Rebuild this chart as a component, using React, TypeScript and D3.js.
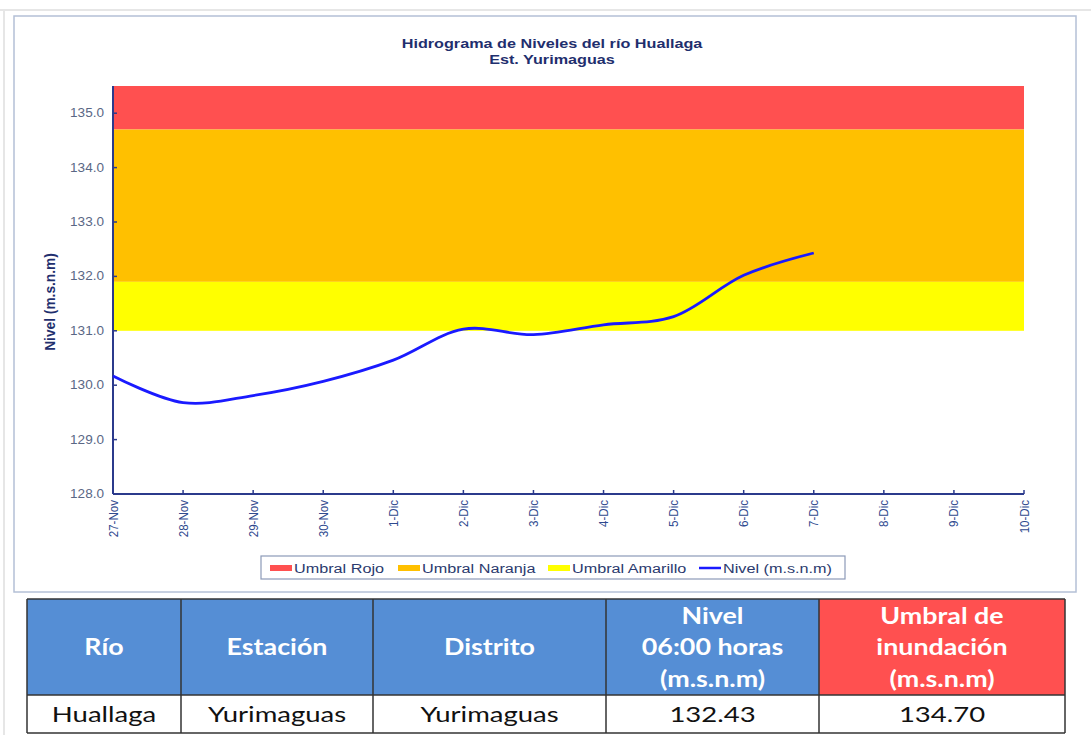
import React from "react";
import * as d3 from "d3";

const dates = ["27-Nov", "28-Nov", "29-Nov", "30-Nov", "1-Dic", "2-Dic", "3-Dic", "4-Dic", "5-Dic", "6-Dic", "7-Dic", "8-Dic", "9-Dic", "10-Dic"];
const nivel = [130.17, 129.68, 129.81, 130.07, 130.46, 131.03, 130.93, 131.11, 131.26, 132.02, 132.43];
const yTicks = [128, 129, 130, 131, 132, 133, 134, 135];

// umbrales: [desde, hasta]
const umbralRojo = [134.7, 135.5];
const umbralNaranja = [131.9, 134.7];
const umbralAmarillo = [131.0, 131.9];

const legendItems = [
  { label: "Umbral Rojo", color: "#ff5050", kind: "rect" },
  { label: "Umbral Naranja", color: "#ffc000", kind: "rect" },
  { label: "Umbral Amarillo", color: "#ffff00", kind: "rect" },
  { label: "Nivel (m.s.n.m)", color: "#1a1aff", kind: "line" },
];

const tableHeader = [["Río"], ["Estación"], ["Distrito"], ["Nivel", "06:00 horas", "(m.s.n.m)"], ["Umbral de", "inundación", "(m.s.n.m)"]];
const tableRow = ["Huallaga", "Yurimaguas", "Yurimaguas", "132.43", "134.70"];
const colEdges = [27, 181, 373, 606, 819, 1065];

const navy = "#1f2f6e";
const axisColor = "#2b3a8c";

// texto estirado en horizontal, como en la imagen original
const Stretch = ({ x, y, sx, anchor = "start", children, ...rest }: any) => (
  <text transform={`translate(${x},${y}) scale(${sx},1)`} textAnchor={anchor} {...rest}>
    {children}
  </text>
);

const App = () => {
  const left = 113, right = 1024, top = 86, bottom = 494;

  const x = d3.scalePoint().domain(dates).range([left, right]);
  const y = d3.scaleLinear().domain([128, 135.5]).range([bottom, top]);

  const line = d3
    .line<number>()
    .x((_, i) => x(dates[i]) as number)
    .y((d) => y(d))
    .curve(d3.curveCatmullRom.alpha(0.5));

  const band = (r: number[], color: string) => (
    <rect x={left} width={right - left} y={y(r[1])} height={y(r[0]) - y(r[1])} fill={color} />
  );

  const font = "'Liberation Sans', Arial, sans-serif";
  const tfont = "Lato, 'Open Sans', sans-serif";
  const headTop = 599, headBottom = 695, rowBottom = 733;

  const legendX = [270, 398, 548, 699];

  return (
    <svg width={1091} height={735} style={{ position: "absolute", left: 0, top: 0 }}>
      <rect x={0} y={0} width={1091} height={735} fill="#ffffff" />
      <line x1={0} x2={1091} y1={10} y2={10} stroke="#e6e6e6" strokeWidth={2} />
      <line x1={4} x2={4} y1={10} y2={735} stroke="#e6e6e6" strokeWidth={2} />
      <rect x={14} y={16} width={1062} height={576} fill="#fff" stroke="#b4c0d6" strokeWidth={1.5} />

      <Stretch x={552} y={48} sx={1.2} anchor="middle" fontFamily={font} fontWeight="bold" fontSize={13.5} fill={navy}>
        Hidrograma de Niveles del río Huallaga
      </Stretch>
      <Stretch x={552} y={64} sx={1.2} anchor="middle" fontFamily={font} fontWeight="bold" fontSize={13.5} fill={navy}>
        Est. Yurimaguas
      </Stretch>

      {band(umbralRojo, "#ff5050")}
      {band(umbralNaranja, "#ffc000")}
      {band(umbralAmarillo, "#ffff00")}

      {/* eje Y */}
      <line x1={left} x2={left} y1={top} y2={bottom} stroke={axisColor} strokeWidth={2} />
      {yTicks.map((t) => (
        <g key={t}>
          <line x1={left} x2={left + 4} y1={y(t)} y2={y(t)} stroke={axisColor} strokeWidth={1.5} />
          <Stretch x={104} y={y(t) + 4} sx={1.13} anchor="end" fontFamily={font} fontSize={12} fill="#5a6785">
            {t.toFixed(1)}
          </Stretch>
        </g>
      ))}
      <text
        transform={`translate(55,${(top + bottom) / 2 + 12}) rotate(-90) scale(1.1,1.15)`}
        textAnchor="middle"
        fontFamily={font}
        fontWeight="bold"
        fontSize={12.5}
        fill={navy}
      >
        Nivel (m.s.n.m)
      </text>

      {/* eje X */}
      <line x1={left} x2={right} y1={bottom} y2={bottom} stroke={axisColor} strokeWidth={2} />
      {dates.map((d) => (
        <g key={d}>
          <line x1={x(d)} x2={x(d)} y1={bottom} y2={bottom - 4} stroke={axisColor} strokeWidth={1.5} />
          <text
            transform={`translate(${(x(d) as number) + 4.5},${bottom + 6}) rotate(-90) scale(1.05,1.15)`}
            textAnchor="end"
            fontFamily={font}
            fontSize={11}
            fill="#2f4a8f"
          >
            {d}
          </text>
        </g>
      ))}

      <path d={line(nivel) || ""} fill="none" stroke="#1a1aff" strokeWidth={2.8} />

      {/* leyenda */}
      <rect x={261} y={556} width={584} height={23} fill="#fff" stroke="#8c9ab8" strokeWidth={1.2} />
      {legendItems.map((it, i) => (
        <g key={it.label}>
          {it.kind === "rect" ? (
            <rect x={legendX[i]} y={565} width={22} height={6} fill={it.color} />
          ) : (
            <line x1={legendX[i]} x2={legendX[i] + 22} y1={568} y2={568} stroke={it.color} strokeWidth={2.5} />
          )}
          <Stretch x={legendX[i] + 24} y={573} sx={1.2} fontFamily={font} fontSize={13.5} fill="#2b3a6e">
            {it.label}
          </Stretch>
        </g>
      ))}

      {/* tabla */}
      {tableHeader.map((lines, i) => {
        const x0 = colEdges[i], x1 = colEdges[i + 1];
        const cx = (x0 + x1) / 2;
        const midY = (headTop + headBottom) / 2;
        const lh = 31.5;
        return (
          <g key={i}>
            <rect x={x0} y={headTop} width={x1 - x0} height={headBottom - headTop} fill={i === 4 ? "#ff5050" : "#558ed5"} />
            {lines.map((l, j) => (
              <Stretch
                key={j}
                x={cx}
                y={midY + (j - (lines.length - 1) / 2) * lh + 8}
                sx={1.22}
                anchor="middle"
                fontFamily={tfont}
                fontWeight="bold"
                fontSize={22}
                fill="#ffffff"
              >
                {l}
              </Stretch>
            ))}
            <rect x={x0} y={headBottom} width={x1 - x0} height={rowBottom - headBottom} fill="#fff" />
            <Stretch x={cx} y={(headBottom + rowBottom) / 2 + 8} sx={1.25} anchor="middle" fontFamily={tfont} fontSize={22} fill="#111">
              {tableRow[i]}
            </Stretch>
          </g>
        );
      })}
      {colEdges.map((cx) => (
        <line key={cx} x1={cx} x2={cx} y1={headTop} y2={rowBottom} stroke="#333" strokeWidth={1.5} />
      ))}
      <line x1={27} x2={1065} y1={headTop} y2={headTop} stroke="#333" strokeWidth={1.5} />
      <line x1={27} x2={1065} y1={headBottom} y2={headBottom} stroke="#333" strokeWidth={1.5} />
      <line x1={27} x2={1065} y1={rowBottom} y2={rowBottom} stroke="#333" strokeWidth={1.5} />
    </svg>
  );
};

export default App;
